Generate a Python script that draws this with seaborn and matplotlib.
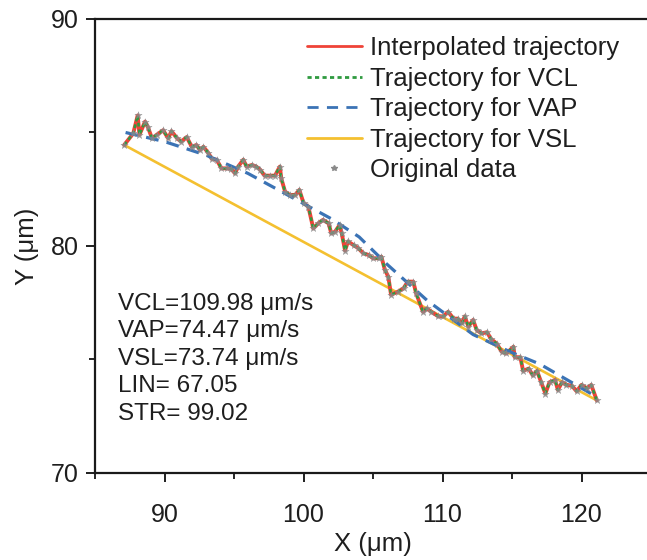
import numpy as np
import pandas as pd
import matplotlib
matplotlib.use("Agg")
import matplotlib.pyplot as plt
import seaborn as sns
from matplotlib.ticker import MultipleLocator
from matplotlib.lines import Line2D

# Original track points (µm)
orig_x = [87.1, 87.75, 88.07, 88.2, 88.6, 88.8, 89.1, 89.44, 89.9, 90.27, 90.5, 90.9, 91.2,
          91.6, 91.96, 92.3, 92.55, 92.8, 93.15, 93.4, 93.75, 94.1, 94.5, 94.8, 95.07, 95.3,
          95.67, 95.9, 96.3, 96.6, 96.9, 97.2, 97.6, 97.95, 98.3, 98.4, 98.67, 99.0, 99.4,
          99.7, 100.0, 100.35, 100.7, 101.07, 101.4, 101.8, 102.0, 102.27, 102.6, 102.75,
          102.99, 103.2, 103.6, 103.95, 104.3, 104.7, 105.0, 105.4, 105.6, 105.86, 106.1,
          106.3, 106.8, 107.2, 107.5, 107.9, 108.1, 108.6, 108.86, 109.2, 109.7, 110.06,
          110.4, 110.8, 111.1, 111.4, 111.6, 111.86, 112.2, 112.46, 112.8, 113.2, 113.5,
          113.9, 114.26, 114.6, 115.1, 115.2, 115.6, 115.8, 116.2, 116.5, 116.8, 117.1,
          117.4, 117.7, 118.1, 118.3, 118.6, 118.9, 119.3, 119.65, 120.0, 120.4, 120.7, 121.1]
orig_y = [84.45, 84.96, 85.75, 84.9, 85.48, 85.25, 84.74, 84.9, 85.1, 84.74, 85.06, 84.75, 84.6,
          84.8, 84.37, 84.45, 84.23, 84.37, 84.1, 83.84, 83.8, 83.42, 83.42, 83.4, 83.2, 83.5,
          83.8, 83.5, 83.57, 83.5, 83.35, 83.1, 83.1, 83.1, 83.5, 82.98, 82.4, 82.25, 82.25,
          82.47, 81.9, 81.73, 80.78, 81.0, 81.15, 81.0, 80.56, 80.63, 80.93, 80.56,
          79.8, 80.2, 80.04, 79.9, 79.68, 79.6, 79.46, 79.46, 79.53, 78.94, 78.65,
          77.85, 77.99, 78.14, 78.43, 78.43, 77.92, 77.1, 77.25, 77.1, 76.9, 76.9,
          77.1, 76.8, 76.8, 76.6, 76.9, 76.45, 76.74, 76.3, 76.15, 76.2, 75.9,
          75.7, 75.34, 75.27, 75.56, 75.1, 75.1, 74.5, 74.6, 74.3, 74.5, 74.0,
          73.5, 74.0, 74.1, 73.66, 74.0, 73.88, 73.85, 73.6, 73.88, 73.73, 73.88, 73.2]

# Average path (VAP)
vap_x = [87.2, 90.0, 93.0, 96.0, 99.3, 102.0, 104.0, 106.0, 108.9, 112.2, 115.0, 117.0, 121.1]
vap_y = [85.0, 84.6, 84.0, 83.2, 82.1, 81.2, 80.4, 79.2, 77.6, 76.1, 75.3, 74.8, 73.35]

# Straight line (VSL)
vsl_x = [87.1, 121.1]
vsl_y = [84.45, 73.2]

stats_text = ["VCL=109.98 \u03bcm/s", "VAP=74.47 \u03bcm/s", "VSL=73.74 \u03bcm/s",
              "LIN= 67.05", "STR= 99.02"]

sns.set_theme(style="ticks")
plt.rcParams['font.family'] = ['Liberation Sans', 'DejaVu Sans']

C_RED = "#ef4338"
C_GREEN = "#2f9a40"
C_BLUE = "#3b73b5"
C_YEL = "#f4c030"
C_GRAY = "#8a8a8a"
C_TXT = "#1e1e1e"

fig = plt.figure(figsize=(6.47, 5.60), dpi=100)
ax = fig.add_axes([95/647, 87/560, 556/647, 454/560])

df_o = pd.DataFrame({"x": orig_x, "y": orig_y})
df_vap = pd.DataFrame({"x": vap_x, "y": vap_y})
df_vsl = pd.DataFrame({"x": vsl_x, "y": vsl_y})

sns.lineplot(data=df_vsl, x="x", y="y", sort=False, ax=ax, color=C_YEL, lw=1.9, zorder=2)
sns.lineplot(data=df_o, x="x", y="y", sort=False, ax=ax, color=C_RED, lw=2.8, zorder=3)
sns.lineplot(data=df_o, x="x", y="y", sort=False, ax=ax, color=C_GREEN, lw=1.8,
             linestyle=(0, (1.5, 1.2)), zorder=4)
sns.lineplot(data=df_vap, x="x", y="y", sort=False, ax=ax, color=C_BLUE, lw=2.3,
             linestyle=(0, (4, 2.6)), zorder=5)
sns.scatterplot(data=df_o, x="x", y="y", ax=ax, marker="*", s=30, color=C_GRAY,
                edgecolor=C_GRAY, linewidth=0.3, alpha=0.8, zorder=6)

ax.set_xlim(85, 125)
ax.set_ylim(70, 90)
ax.xaxis.set_minor_locator(MultipleLocator(5))
ax.yaxis.set_major_locator(MultipleLocator(10))
ax.yaxis.set_minor_locator(MultipleLocator(5))
ax.set_xticks([90, 100, 110, 120])
ax.tick_params(which="major", length=6.5, width=1.4, labelsize=18, colors=C_TXT, pad=5)
ax.tick_params(axis="x", which="major", pad=15)
ax.tick_params(which="minor", length=4, width=1.4)
for s in ["left", "bottom", "top"]:
    ax.spines[s].set_linewidth(1.6)
    ax.spines[s].set_color("#1a1a1a")
ax.spines["right"].set_visible(False)

ax.set_xlabel("X (\u03bcm)", fontsize=18.5, color=C_TXT, labelpad=4)
ax.set_ylabel("Y (\u03bcm)", fontsize=18.5, color=C_TXT, labelpad=9)

for i, t in enumerate(stats_text):
    ax.text(86.65, 77.45 - i * 1.21, t, fontsize=17.5, color=C_TXT, va="center", ha="left")

handles = [
    Line2D([], [], color=C_RED, lw=2.0),
    Line2D([], [], color=C_GREEN, lw=2.0, linestyle=(0, (1.5, 1.2))),
    Line2D([], [], color=C_BLUE, lw=2.0, linestyle=(0, (4, 3))),
    Line2D([], [], color=C_YEL, lw=2.0),
    Line2D([], [], color=C_GRAY, marker="*", lw=0, markersize=4),
]
labels = ["Interpolated trajectory", "Trajectory for VCL", "Trajectory for VAP",
          "Trajectory for VSL", "Original data"]
leg = ax.legend(handles, labels, loc="upper left", bbox_to_anchor=(0.381, 0.962),
                frameon=False, fontsize=18.5, handlelength=2.15, handletextpad=0.3,
                labelspacing=0.25, borderaxespad=0, borderpad=0)
for txt in leg.get_texts():
    txt.set_color(C_TXT)

fig.savefig("out.png", dpi=100)
